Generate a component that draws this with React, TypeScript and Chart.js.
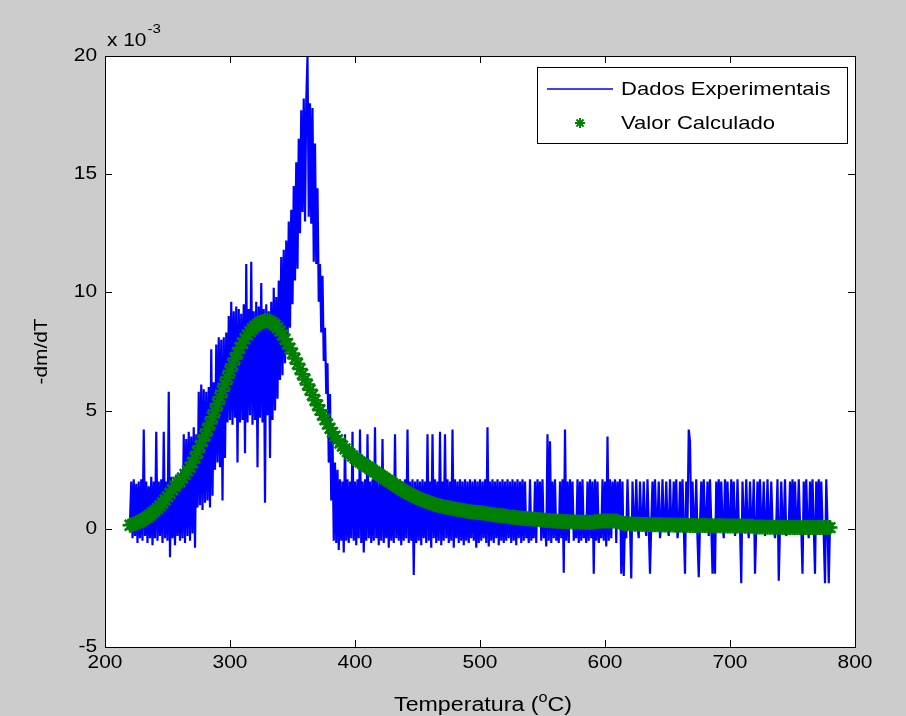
import React, { useEffect, useRef } from "react";
import { Chart, registerables } from "chart.js";

Chart.register(...registerables);

// ---------- data (values in units of 1e-3) ----------
const X_TICKS = [200, 300, 400, 500, 600, 700, 800];
const X_TICK_LABELS = ["200", "300", "400", "500", "600", "700", "800"];
const Y_TICKS = [-5, 0, 5, 10, 15, 20];
const Y_TICK_LABELS = ["-5", "0", "5", "10", "15", "20"];

const SERIES_EXP = "Dados Experimentais";
const SERIES_CALC = "Valor Calculado";

// experimental series: one reading per degree from 220 °C
const EXP_T0 = 220;
const EXP_DT = 1;
const expValues = [
  0.3, 2.0, -0.4, 2.1, -0.3, 1.9, -0.6, 2.0, -0.4, 2.1,
  -0.5, 4.2, -0.3, 2.0, -0.6, 1.8, -0.4, 2.2, -0.7, 2.0,
  -0.4, 4.1, -0.5, 2.0, -0.3, 2.1, -0.6, 4.1, -0.4, 2.0,
  -0.5, 5.8, -1.2, 2.2, -0.4, 2.0, -0.7, 2.3, -0.3, 2.1,
  -0.5, 2.4, -0.4, 4.0, -0.6, 3.8, -0.3, 4.1, -0.5, 3.9,
  -0.2, 4.3, -0.8, 4.0, 0.9, 5.8, 1.0, 6.1, 0.8, 5.9,
  1.1, 5.8, 1.2, 6.0, 0.9, 7.6, 1.4, 6.2, 2.5, 7.8,
  2.8, 8.1, 2.6, 8.0, 1.2, 8.1, 3.0, 8.3, 4.5, 9.0,
  4.6, 9.6, 4.4, 9.2, 4.7, 9.4, 2.8, 9.3, 4.5, 9.1,
  4.6, 9.5, 3.2, 11.2, 4.5, 9.3, 4.8, 11.3, 4.4, 9.2,
  4.6, 9.6, 2.6, 9.4, 4.7, 10.4, 4.5, 9.3, 1.1, 9.5,
  4.8, 9.2, 3.0, 9.6, 4.6, 10.2, 5.0, 9.8, 5.5, 10.5,
  6.3, 11.5, 6.5, 11.8, 7.0, 12.2, 7.5, 13.0, 8.5, 13.5,
  9.5, 14.5, 10.5, 15.5, 11.0, 16.5, 12.5, 17.7, 13.4, 18.2,
  13.0, 18.1, 20.0, 13.2, 18.0, 12.9, 17.8, 11.3, 16.3, 11.2,
  14.4, 9.6, 11.2, 8.3, 10.7, 7.1, 8.5, 5.7, 7.0, 2.8,
  5.7, 1.2, 4.0, -0.5, 2.8, -0.6, 2.5, -0.9, 2.1, -0.5,
  2.0, -1.0, 4.0, -0.5, 2.1, -0.6, 2.0, -0.4, 4.1, -0.5,
  2.0, -0.7, 2.1, -0.4, 4.2, -0.6, 2.0, -1.0, 2.1, -0.5,
  4.0, -0.4, 2.0, -0.6, 2.1, -0.5, 4.3, -0.4, 2.0, -0.7,
  2.1, -0.5, 3.8, -0.6, 2.0, -0.4, 2.1, -0.8, 2.0, -0.5,
  2.1, -0.6, 4.0, -0.4, 2.0, -0.5, 2.1, -0.7, 2.0, -0.5,
  2.1, -0.4, 4.2, -0.6, 2.0, -0.5, 2.1, -1.95, 2.0, -0.6,
  2.1, -0.5, 2.0, -0.7, 2.1, -0.4, 2.0, -0.6, 4.0, -0.5,
  2.0, -0.8, 4.0, -0.4, 2.1, -0.6, 2.0, -0.5, 4.1, -0.7,
  2.0, -0.5, 4.0, -0.4, 2.1, -0.6, 2.0, -0.5, 4.2, -0.8,
  2.1, -0.4, 2.0, -0.6, 2.1, -0.5, 2.0, -0.7, 2.1, -0.5,
  2.0, -0.6, 2.1, -0.4, 2.0, -0.5, 2.1, -0.8, 2.0, -0.6,
  2.1, -0.5, 2.0, -0.4, 2.1, -0.6, 4.3, -0.75, 2.0, -0.5,
  2.1, -0.6, 2.0, -0.4, 2.1, -0.7, 2.0, -0.5, 2.1, -0.6,
  2.0, -0.5, 2.1, -0.4, 2.0, -0.6, 2.1, -0.5, 2.0, -0.7,
  2.1, -0.4, 2.0, -0.6, 2.1, -0.5, 2.0, -0.4, 0.3, -0.6,
  2.1, -0.5, 0.3, -0.4, 2.0, -0.6, 2.1, 0.2, 2.0, -0.5,
  2.1, -0.4, 0.3, -0.75, 4.0, -0.5, 3.7, -0.6, 2.0, -0.4,
  2.1, -0.5, 0.3, -0.6, 2.0, -0.4, 2.1, -1.86, 4.2, -0.5,
  2.0, -0.6, 2.1, 0.2, 2.0, -0.5, 0.3, -0.4, 2.1, -0.6,
  2.0, -0.5, 2.1, -0.4, 0.3, -0.6, 2.0, -0.5, 2.1, -0.4,
  2.0, -1.9, 2.1, -0.5, 2.0, -0.6, 0.3, -0.4, 2.1, -0.5,
  2.0, -0.75, 3.9, -0.5, 2.1, -0.4, 2.0, 0.2, 2.1, -0.6,
  2.0, 0.3, 2.1, -1.9, 2.0, -2.0, 0.3, -0.4, 2.1, 0.2,
  0.2, -2.1, 2.0, 0.1, 0.2, 2.1, 0.1, -0.4, 2.0, 0.2,
  0.1, 2.0, 0.2, -0.3, 2.1, 0.1, -1.9, 0.2, 2.0, 0.1,
  2.1, 0.2, 0.1, 2.0, -0.4, 0.2, 2.1, 0.1, 0.2, 2.0,
  0.1, -0.3, 2.1, 0.2, 0.1, 2.0, 0.2, 2.1, -0.4, 0.1,
  2.0, 0.2, 2.1, 0.1, -1.9, 2.0, 0.2, 4.2, 3.7, 0.1,
  2.0, 0.2, 0.1, 2.1, -0.4, -2.05, 0.2, 2.0, 0.1, 2.1,
  0.2, 0.1, 2.0, -0.3, 2.1, 0.2, -1.9, 0.1, -1.9, 2.0,
  0.2, 2.1, 0.1, 2.0, 0.2, -0.4, 2.1, 0.1, 2.0, 0.2,
  0.1, 2.1, 0.2, 2.0, -0.3, 0.1, 2.1, 0.2, 0.1, -2.3,
  2.0, 0.2, 0.1, 2.1, 0.2, -0.4, 2.0, 0.1, 0.2, 2.1,
  -1.9, 0.1, 2.0, 0.2, 2.1, 0.1, 0.2, 2.0, -0.3, 0.1,
  2.1, 0.2, 0.1, 2.0, 0.2, 0.1, -0.4, 0.2, 2.1, -2.2,
  0.1, 2.0, 0.2, 0.1, 2.1, -0.3, 0.2, 0.1, 2.0, 0.2,
  2.1, 0.1, 2.0, 0.2, 0.1, 2.1, 0.2, 0.1, -1.9, 2.0,
  0.2, 2.1, 0.1, -0.4, 2.0, 0.2, 2.1, 0.1, -1.9, 2.0,
  0.2, 2.1, 0.1, 2.0, 0.2, -0.3, -2.3, 2.1, 0.2, -2.3,
  0.2,
];

// calculated series: one value every 2 °C from 220 °C
const CALC_T0 = 220;
const CALC_DT = 2;
const calcValues = [
  0.15, 0.18, 0.22, 0.26, 0.31, 0.37, 0.43, 0.5, 0.58, 0.67,
  0.76, 0.86, 0.97, 1.09, 1.22, 1.36, 1.5, 1.65, 1.8, 1.96,
  2.0, 2.15, 2.3, 2.45, 2.6, 2.8, 3.0, 3.25, 3.5, 3.72,
  3.95, 4.2, 4.45, 4.72, 5.0, 5.28, 5.56, 5.84, 6.12, 6.4,
  6.68, 6.95, 7.2, 7.44, 7.66, 7.86, 8.04, 8.2, 8.34, 8.46,
  8.56, 8.65, 8.72, 8.77, 8.8, 8.8, 8.77, 8.71, 8.62, 8.5,
  8.36, 8.2, 8.02, 7.83, 7.63, 7.42, 7.2, 6.98, 6.76, 6.54,
  6.32, 6.1, 5.88, 5.66, 5.44, 5.23, 5.02, 4.82, 4.62, 4.43,
  4.25, 4.08, 3.92, 3.77, 3.63, 3.5, 3.38, 3.27, 3.17, 3.08,
  2.99, 2.91, 2.83, 2.76, 2.69, 2.62, 2.55, 2.48, 2.41, 2.34,
  2.27, 2.2, 2.13, 2.06, 1.99, 1.92, 1.85, 1.78, 1.71, 1.64,
  1.58, 1.52, 1.46, 1.41, 1.36, 1.31, 1.26, 1.22, 1.18, 1.14,
  1.1, 1.06, 1.03, 1.0, 0.97, 0.94, 0.92, 0.9, 0.88, 0.86,
  0.84, 0.82, 0.8, 0.78, 0.76, 0.74, 0.72, 0.71, 0.7, 0.69,
  0.68, 0.67, 0.66, 0.64, 0.62, 0.6, 0.58, 0.57, 0.56, 0.55,
  0.54, 0.52, 0.5, 0.49, 0.48, 0.47, 0.46, 0.45, 0.44, 0.43,
  0.42, 0.41, 0.4, 0.39, 0.38, 0.37, 0.36, 0.35, 0.34, 0.33,
  0.33, 0.32, 0.32, 0.31, 0.31, 0.3, 0.3, 0.29, 0.29, 0.29,
  0.28, 0.28, 0.28, 0.28, 0.27, 0.28, 0.3, 0.31, 0.32, 0.33,
  0.33, 0.33, 0.33, 0.33, 0.33, 0.32, 0.27, 0.24, 0.22, 0.21,
  0.2, 0.2, 0.19, 0.19, 0.19, 0.18, 0.18, 0.18, 0.18, 0.17,
  0.17, 0.17, 0.17, 0.16, 0.16, 0.16, 0.16, 0.16, 0.15, 0.15,
  0.15, 0.15, 0.15, 0.15, 0.14, 0.14, 0.14, 0.14, 0.14, 0.14,
  0.14, 0.13, 0.13, 0.13, 0.13, 0.13, 0.13, 0.13, 0.12, 0.12,
  0.12, 0.12, 0.12, 0.12, 0.12, 0.12, 0.11, 0.11, 0.11, 0.11,
  0.08, 0.08, 0.08, 0.08, 0.07, 0.07, 0.07, 0.07, 0.07, 0.07,
  0.07, 0.06, 0.06, 0.06, 0.06, 0.06, 0.06, 0.06, 0.06, 0.06,
  0.05, 0.05, 0.05, 0.05, 0.05, 0.05, 0.05, 0.05, 0.05, 0.05,
  0.05,
];

// ---------- styling ----------
const FIG_BG = "#cccccc";
const EXP_COLOR = "#0000ff";
const CALC_COLOR = "#008000";
const FONT = "'Liberation Sans', Arial, sans-serif";
const TXT = 18; // px
const TITLE_TXT = 20; // px
const SX = 1.16; // horizontal stretch of the text
const W = 906;
const H = 716;

function text(
  ctx: CanvasRenderingContext2D,
  s: string,
  x: number,
  y: number,
  size: number,
  align: CanvasTextAlign,
  baseline: CanvasTextBaseline
) {
  ctx.save();
  ctx.font = `${size}px ${FONT}`;
  ctx.textAlign = align;
  ctx.textBaseline = baseline;
  ctx.translate(x, y);
  ctx.scale(SX, 1);
  ctx.fillText(s, 0, 0);
  ctx.restore();
}

function textWidth(ctx: CanvasRenderingContext2D, s: string, size: number) {
  ctx.save();
  ctx.font = `${size}px ${FONT}`;
  const w = ctx.measureText(s).width * SX;
  ctx.restore();
  return w;
}

function drawStar(ctx: CanvasRenderingContext2D, x: number, y: number, r: number) {
  ctx.beginPath();
  ctx.moveTo(x - r, y);
  ctx.lineTo(x + r, y);
  ctx.moveTo(x, y - r);
  ctx.lineTo(x, y + r);
  const d = r * 0.7071;
  ctx.moveTo(x - d, y - d);
  ctx.lineTo(x + d, y + d);
  ctx.moveTo(x - d, y + d);
  ctx.lineTo(x + d, y - d);
  ctx.stroke();
}

const matlabFrame = {
  id: "matlabFrame",
  beforeDraw(chart: any) {
    const { ctx, chartArea: a } = chart;
    ctx.save();
    ctx.fillStyle = FIG_BG;
    ctx.fillRect(0, 0, chart.width, chart.height);
    ctx.fillStyle = "#ffffff";
    ctx.fillRect(a.left, a.top, a.right - a.left, a.bottom - a.top);
    ctx.restore();
  },
  afterDraw(chart: any) {
    const { ctx, chartArea: a } = chart;
    const xs = chart.scales.x;
    const ys = chart.scales.y;
    ctx.save();
    ctx.strokeStyle = "#000000";
    ctx.fillStyle = "#000000";
    ctx.lineWidth = 1;
    // box
    ctx.strokeRect(Math.round(a.left) + 0.5, Math.round(a.top) + 0.5, Math.round(a.right - a.left), Math.round(a.bottom - a.top));
    const TL = 7;
    ctx.beginPath();
    X_TICKS.forEach((v) => {
      const px = Math.round(xs.getPixelForValue(v)) + 0.5;
      ctx.moveTo(px, a.bottom);
      ctx.lineTo(px, a.bottom - TL);
      ctx.moveTo(px, a.top);
      ctx.lineTo(px, a.top + TL);
    });
    Y_TICKS.forEach((v) => {
      const py = Math.round(ys.getPixelForValue(v)) + 0.5;
      ctx.moveTo(a.left, py);
      ctx.lineTo(a.left + TL, py);
      ctx.moveTo(a.right, py);
      ctx.lineTo(a.right - TL, py);
    });
    ctx.stroke();

    // tick labels
    X_TICKS.forEach((v, i) => {
      text(ctx, X_TICK_LABELS[i], xs.getPixelForValue(v), a.bottom + 7, TXT, "center", "top");
    });
    Y_TICKS.forEach((v, i) => {
      text(ctx, Y_TICK_LABELS[i], a.left - 8, ys.getPixelForValue(v), TXT, "right", "middle");
    });

    // exponent label
    text(ctx, "x 10", a.left + 2, a.top - 10, TXT, "left", "alphabetic");
    const w10 = textWidth(ctx, "x 10", TXT);
    text(ctx, "-3", a.left + 2 + w10 + 1, a.top - 23, 13, "left", "alphabetic");

    // x title with superscript
    const p1 = "Temperatura (";
    const p3 = "C)";
    const w1 = textWidth(ctx, p1, TITLE_TXT);
    const w2 = textWidth(ctx, "o", 14);
    const w3 = textWidth(ctx, p3, TITLE_TXT);
    const total = w1 + w2 + w3;
    const cx = (a.left + a.right) / 2 + 3;
    const x0 = cx - total / 2;
    const by = a.bottom + 64;
    text(ctx, p1, x0, by, TITLE_TXT, "left", "alphabetic");
    text(ctx, "o", x0 + w1, by - 9, 14, "left", "alphabetic");
    text(ctx, p3, x0 + w1 + w2, by, TITLE_TXT, "left", "alphabetic");

    // y title (rotated)
    ctx.save();
    ctx.translate(a.left - 63, (a.top + a.bottom) / 2);
    ctx.rotate(-Math.PI / 2);
    text(ctx, "-dm/dT", 0, 0, TXT, "center", "middle");
    ctx.restore();

    // legend
    const lx = 537, ly = 67, lw = 310, lh = 76;
    ctx.fillStyle = "#ffffff";
    ctx.fillRect(lx, ly, lw, lh);
    ctx.strokeStyle = "#000000";
    ctx.lineWidth = 1;
    ctx.strokeRect(lx + 0.5, ly + 0.5, lw, lh);
    ctx.strokeStyle = EXP_COLOR;
    ctx.lineWidth = 1.5;
    ctx.beginPath();
    ctx.moveTo(547, 89);
    ctx.lineTo(613, 89);
    ctx.stroke();
    ctx.strokeStyle = CALC_COLOR;
    ctx.lineWidth = 2;
    drawStar(ctx, 580, 123, 5);
    ctx.fillStyle = "#000000";
    text(ctx, SERIES_EXP, 621, 90, 19, "left", "middle");
    text(ctx, SERIES_CALC, 621, 124, 19, "left", "middle");
    ctx.restore();
  },
};

export default function App() {
  const ref = useRef<HTMLCanvasElement | null>(null);
  useEffect(() => {
    document.body.style.margin = "0";
    const expData = expValues.map((v, i) => ({ x: EXP_T0 + i * EXP_DT, y: v }));
    const calcData = calcValues.map((v, i) => ({ x: CALC_T0 + i * CALC_DT, y: v }));
    const chart = new Chart(ref.current as HTMLCanvasElement, {
      type: "scatter",
      data: {
        datasets: [
          {
            label: SERIES_CALC,
            data: calcData,
            showLine: false,
            pointStyle: "star",
            pointRadius: 7.5,
            pointBorderWidth: 2.5,
            borderColor: CALC_COLOR,
            backgroundColor: CALC_COLOR,
          },
          {
            label: SERIES_EXP,
            data: expData,
            showLine: true,
            borderColor: EXP_COLOR,
            backgroundColor: EXP_COLOR,
            borderWidth: 2.2,
            pointRadius: 0,
            tension: 0,
          },
        ],
      },
      options: {
        animation: false,
        responsive: false,
        devicePixelRatio: 1,
        events: [],
        layout: { padding: { left: 105, top: 56, right: 51, bottom: 69 } },
        scales: {
          x: { type: "linear", min: 200, max: 800, display: false },
          y: { type: "linear", min: -5, max: 20, display: false },
        },
        plugins: { legend: { display: false }, tooltip: { enabled: false } },
      },
      plugins: [matlabFrame],
    } as any);
    return () => chart.destroy();
  }, []);
  return (
    <div style={{ position: "absolute", left: 0, top: 0, width: W, height: H }}>
      <canvas ref={ref} width={W} height={H} style={{ display: "block", width: W, height: H }} />
    </div>
  );
}
